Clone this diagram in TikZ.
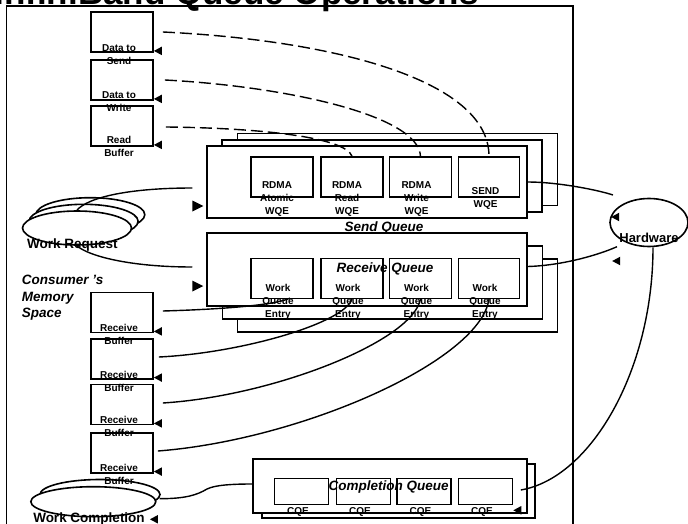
\documentclass[tikz,border=0pt]{standalone}
\usepackage{fontspec}
\setmainfont{Liberation Sans}
\usetikzlibrary{shapes.geometric}

% small filled arrowheads
\newcommand\tipleft[1]{\fill #1 -- ++(8,-4.3) -- ++(0,8.6) -- cycle;}
\newcommand\tipright[1]{\fill #1 -- ++(-11,-5.5) -- ++(0,11) -- cycle;}

\begin{document}
\begin{tikzpicture}[x=1pt,y=-1pt,
  frame/.style={line width=1.3pt},
  membox/.style={draw, line width=1.8pt, fill=white, minimum width=62pt, minimum height=40pt, inner sep=0pt},
  qrect/.style={draw, line width=1.5pt, fill=white, minimum width=320pt, minimum height=72pt, inner sep=0pt},
  entry/.style={draw, line width=1.6pt, fill=white, minimum width=62pt, minimum height=40pt, inner sep=0pt},
  cqe/.style={draw, line width=1.6pt, fill=white, minimum width=54pt, minimum height=26pt, inner sep=0pt},
  oval/.style={draw, ellipse, line width=1.6pt, fill=white, inner sep=0pt},
  link/.style={line width=1.4pt},
  dlink/.style={line width=1.4pt, dash pattern=on 12pt off 5pt},
  small/.style={font=\fontsize{10}{13}\selectfont\bfseries, align=center, inner sep=0pt},
  big/.style={font=\fontsize{13.5}{16.4}\selectfont\bfseries, inner sep=0pt},
  bigit/.style={font=\fontsize{13.5}{16.4}\selectfont\bfseries\itshape, inner sep=0pt},
]
\useasboundingbox (0,0) rectangle (688,524);
\clip (0,0) rectangle (688,524);

% title and outer frame
\node[font=\fontsize{35}{40}\selectfont\bfseries, anchor=base, inner sep=0pt] (title) at (236.5,5) {InfiniBand Queue Operations};
\draw[frame] (6.7,540) -- (6.7,6) -- (573,6) -- (573,540);

% memory buffers
\node[membox] (d1) at (122,32) {};
\node[membox] (d2) at (122,80) {};
\node[membox] (d3) at (122,126) {};
\node[membox] (rb1) at (122,312.5) {};
\node[membox] (rb2) at (122,358.7) {};
\node[membox] (rb3) at (122,404.5) {};
\node[membox] (rb4) at (122,452.7) {};

% send queue stack
\node[qrect] (sqC) at (397.5,169.5) {};
\node[qrect] (sqB) at (382,176) {};
\node[qrect] (sqA) at (367,182) {};
\node[entry] (sW1) at (282,177) {};
\node[entry] (sW2) at (352,177) {};
\node[entry] (sW3) at (420.5,177) {};
\node[entry, minimum width=61pt] (sW4) at (489,177) {};

% receive queue stack
\node[qrect, minimum height=73pt] (rqC) at (397.5,295.5) {};
\node[qrect, minimum height=73pt] (rqB) at (382.5,282.5) {};
\node[qrect, minimum height=73pt] (rqA) at (367,269.5) {};
\node[entry] (rW1) at (282,278.3) {};
\node[entry] (rW2) at (352,278.3) {};
\node[entry] (rW3) at (420.5,278.3) {};
\node[entry, minimum width=61pt] (rW4) at (489,278.3) {};

% completion queue stack
\node[qrect, minimum width=273pt, minimum height=54pt] (cqB) at (398.5,491) {};
\node[qrect, minimum width=274pt, minimum height=54pt] (cqA) at (390,486) {};
\node[cqe] (cq1) at (301.5,491.3) {};
\node[cqe] (cq2) at (363.5,491.3) {};
\node[cqe] (cq3) at (424,491.3) {};
\node[cqe] (cq4) at (485.5,491.3) {};

% ellipses
\node[oval, minimum width=109pt, minimum height=34pt] (wr3) at (90.3,214.7) {};
\node[oval, minimum width=109pt, minimum height=34pt] (wr2) at (83.6,221.3) {};
\node[oval, minimum width=109pt, minimum height=34pt] (wr1) at (77,228) {};
\node[oval, minimum width=120pt, minimum height=30pt] (wc2) at (100,494.5) {};
\node[oval, minimum width=125pt, minimum height=30pt] (wc1) at (93.3,501.7) {};
\node[oval, minimum width=78pt, minimum height=48pt] (hw) at (649,222.5) {};

% free ends
\coordinate (sqin) at ([xshift=-14pt,yshift=-6pt]sqA.west);
\coordinate (rqin) at ([xshift=-14pt,yshift=2.5pt]rqA.west);
\coordinate (hwa) at ([xshift=-36pt,yshift=27.5pt]hw.center);
\coordinate (hwb) at ([xshift=-32pt,yshift=-24.2pt]hw.center);
\coordinate (cqin) at ([xshift=7.5pt,yshift=1.3pt]cq4.east);
\coordinate (wcbend) at (207,489);

% data flow to send work queue elements
\draw[dlink] ([xshift=9pt]d1.east) .. controls +(168,8) and +(0,-77) .. (sW4.north);
\draw[dlink] ([xshift=11pt]d2.east) .. controls +(116,6) and +(-2,-42) .. (sW3.north);
\draw[dlink] ([xshift=12pt,yshift=-1pt]d3.east) .. controls +(95,1) and +(-7,-19) .. (sW2.north);

% receive buffers to receive work queue entries
\draw[link] ([xshift=9pt,yshift=1.5pt]rb1.east) .. controls +(70,-2) and +(-12,6) .. ([xshift=8pt,yshift=1pt]rW1.south);
\draw[link] ([xshift=5pt,yshift=1.7pt]rb2.east) .. controls +(83,-4) and +(-8,24) .. (rW2.south);
\draw[link] ([xshift=9pt,yshift=1.5pt]rb3.east) .. controls +(111,-7) and +(-8,42) .. (rW3.south);
\draw[link] ([xshift=4pt,yshift=1.7pt]rb4.east) .. controls +(143,-11) and +(-9,62) .. (rW4.south);

% work request to both queues
\draw[link] (wr1.north) .. controls +(11,-13) and +(-63,0) .. (sqin);
\draw[link] (wr1.south) .. controls +(11,10) and +(-63,0) .. (rqin);

% queues and hardware
\draw[link] (sqA.east) .. controls +(30,0) and +(-15,-5) .. (hwa);
\draw[link] ([yshift=3pt]rqA.east) .. controls +(35,-1) and +(-18,8) .. (hwb);
\draw[link] ([xshift=4pt]hw.south) .. controls +(0,123) and +(70,-12) .. (cqin);

% completion queue to work completion
\draw[link] ([xshift=3pt,yshift=3pt]wc1.east) .. controls +(26,0) and +(-10,6) .. (wcbend)
  .. controls +(8,-4) and +(-20,0) .. ([yshift=2pt]cqA.west);

% labels
\node[small] (ld1) at ([xshift=-3pt,yshift=-1.4pt]d1.south) {Data to\\Send};
\node[small] (ld2) at ([xshift=-3pt,yshift=-0.7pt]d2.south) {Data to\\Write};
\node[small] (ld3) at ([xshift=-3pt]d3.south) {Read\\Buffer};
\node[small] (lrb1) at ([xshift=-3pt,yshift=-0.6pt]rb1.south) {Receive\\Buffer};
\node[small] (lrb2) at ([xshift=-3pt,yshift=-1.4pt]rb2.south) {Receive\\Buffer};
\node[small] (lrb3) at ([xshift=-3pt,yshift=-1.5pt]rb3.south) {Receive\\Buffer};
\node[small] (lrb4) at ([xshift=-3pt,yshift=-0.4pt]rb4.south) {Receive\\Buffer};
\node[small] (lsW1) at ([xshift=-5pt,yshift=-1pt]sW1.south) {RDMA\\Atomic\\WQE};
\node[small] (lsW2) at ([xshift=-5pt,yshift=-1pt]sW2.south) {RDMA\\Read\\WQE};
\node[small] (lsW3) at ([xshift=-4pt,yshift=-1pt]sW3.south) {RDMA\\Write\\WQE};
\node[small] (lsW4) at ([xshift=-3.5pt,yshift=-0.7pt]sW4.south) {SEND\\WQE};
\foreach \k in {1,2,3,4}{
  \node[small] (lrW\k) at ([xshift=-4pt,yshift=-2.7pt]rW\k.south) {Work\\Queue\\Entry};
  \node[small] (lcq\k) at ([xshift=-3.5pt,yshift=-6.7pt]cq\k.south) {CQE};
}
\node[bigit] (sqlabel) at (384,227.7) {Send Queue};
\node[bigit] (rqlabel) at (385,269) {Receive Queue};
\node[bigit] (cqlabel) at (388.7,486.7) {Completion Queue};
\node[big] (wrlabel) at (72.5,245) {Work Request};
\node[big, font=\fontsize{13}{16}\selectfont\bfseries] (hwlabel) at (649,238) {Hardware};
\node[big] (wclabel) at (89,519.3) {Work Completion};
\node[bigit, align=left, anchor=west] (memlabel) at (21.7,298) {Consumer ’s\\Memory\\Space};

% arrowheads
\tipleft{([yshift=2pt]d1.south east)}
\tipleft{([yshift=2pt]d2.south east)}
\tipleft{([yshift=2pt]d3.south east)}
\tipleft{([yshift=2pt]rb1.south east)}
\tipleft{([yshift=2pt]rb2.south east)}
\tipleft{([yshift=2pt]rb3.south east)}
\tipleft{([yshift=2pt]rb4.south east)}
\tipleft{([xshift=2pt,yshift=5.5pt]hw.west)}
\tipleft{([xshift=3pt,yshift=-38.5pt]hw.west)}
\tipleft{([yshift=-5.2pt]cq4.south east)}
\tipleft{([xshift=5pt]wclabel.east)}
\tipright{([xshift=-3pt,yshift=-24pt]sqA.west)}
\tipright{([xshift=-3pt,yshift=-16.5pt]rqA.west)}
\end{tikzpicture}
\end{document}
